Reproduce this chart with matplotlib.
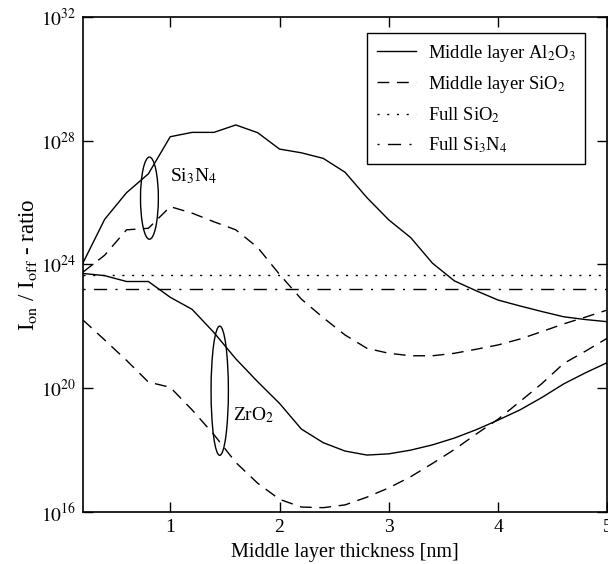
import matplotlib
matplotlib.use("Agg")
import matplotlib.pyplot as plt
import numpy as np
from matplotlib.patches import Ellipse

plt.rcParams["font.family"] = ["Liberation Serif", "DejaVu Serif"]
plt.rcParams["mathtext.fontset"] = "stix"

# ---- data (log10 of Ion/Ioff) ----
thickness = [0.2, 0.4, 0.6, 0.8, 1.0, 1.2, 1.4, 1.6, 1.8, 2.0, 2.2, 2.4, 2.6,
             2.8, 3.0, 3.2, 3.4, 3.6, 3.8, 4.0, 4.2, 4.4, 4.6, 4.8, 5.0]

si3n4_al2o3 = [24.04, 25.46, 26.32, 26.93, 28.13, 28.27, 28.27, 28.51, 28.26,
               27.73, 27.61, 27.43, 26.98, 26.16, 25.44, 24.87, 24.04, 23.47,
               23.15, 22.85, 22.66, 22.48, 22.31, 22.22, 22.15]
si3n4_sio2 = [23.75, 24.30, 25.12, 25.17, 25.87, 25.66, 25.38, 25.12, 24.55,
              23.68, 22.88, 22.28, 21.72, 21.29, 21.13, 21.05, 21.05, 21.13,
              21.26, 21.40, 21.59, 21.83, 22.08, 22.30, 22.53]
zro2_al2o3 = [23.71, 23.64, 23.45, 23.45, 22.94, 22.55, 21.80, 20.95, 20.21,
              19.51, 18.68, 18.24, 17.97, 17.84, 17.88, 18.00, 18.17, 18.39,
              18.66, 18.97, 19.30, 19.70, 20.14, 20.50, 20.83]
zro2_sio2 = [22.21, 21.56, 20.90, 20.20, 20.03, 19.30, 18.50, 17.60, 16.93,
             16.41, 16.16, 16.14, 16.23, 16.48, 16.78, 17.14, 17.57, 18.02,
             18.52, 19.00, 19.57, 20.15, 20.80, 21.20, 21.62]
full_sio2 = 23.65
full_si3n4 = 23.22

ytick_exp = [16, 20, 24, 28, 32]

fig = plt.figure(figsize=(6.08, 5.64), dpi=100)
ax = fig.add_axes([0.1362, 0.0922, 0.8628, 0.8777])

x = np.array(thickness)
dash = (0, (8.5, 5.5))
dot = (0, (1.5, 5.5))
dashdot = (15.5, (9.5, 6, 1.5, 6))

ax.plot(x, 10 ** np.array(si3n4_al2o3), color="k", lw=1.0, label=r"Middle layer Al$_2$O$_3$")
ax.plot(x, 10 ** np.array(si3n4_sio2), color="k", lw=1.0, ls=dash, label=r"Middle layer SiO$_2$")
ax.axhline(10 ** full_sio2, color="k", lw=1.0, ls=dot, label=r"Full SiO$_2$")
ax.axhline(10 ** full_si3n4, color="k", lw=1.0, ls=dashdot, label=r"Full Si$_3$N$_4$")
ax.plot(x, 10 ** np.array(zro2_al2o3), color="k", lw=1.0)
ax.plot(x, 10 ** np.array(zro2_sio2), color="k", lw=1.0, ls=dash)

ax.set_yscale("log")
ax.set_xlim(0.2, 5)
ax.set_ylim(1e16, 1e32)
ax.set_xticks([1, 2, 3, 4, 5])
ax.set_xticklabels(["1", "2", "3", "4", "5"])
ax.set_yticks([10.0 ** e for e in ytick_exp])
ax.set_yticklabels([r"$10^{%d}$" % e for e in ytick_exp])
ax.minorticks_off()
ax.tick_params(direction="in", length=7, width=1.0, top=True, right=True,
               labelsize=14, pad=5)
for s in ax.spines.values():
    s.set_linewidth(1.2)

ax.set_xlabel("Middle layer thickness [nm]", fontsize=14.5, labelpad=5)
ax.set_ylabel(r"I$_{\mathrm{on}}$ / I$_{\mathrm{off}}$ - ratio", fontsize=16.5, labelpad=1)

# ellipses marking curve groups
ax.add_patch(Ellipse((0.127, 0.634), 0.034, 0.166, transform=ax.transAxes,
                     fill=False, edgecolor="k", lw=1.0))
ax.add_patch(Ellipse((0.261, 0.245), 0.033, 0.261, transform=ax.transAxes,
                     fill=False, edgecolor="k", lw=1.0))
ax.text(1.0, 10 ** 26.84, r"Si$_3$N$_4$", fontsize=14, ha="left", va="center")
ax.text(1.57, 10 ** 19.14, r"ZrO$_2$", fontsize=14, ha="left", va="center")

leg = ax.legend(loc="upper right", bbox_to_anchor=(0.958, 0.967), fontsize=13.4,
                fancybox=False, edgecolor="k", framealpha=1, handlelength=2.1,
                handletextpad=0.65, borderpad=0.5, labelspacing=0.55, borderaxespad=0)
leg.get_frame().set_linewidth(1.0)

fig.savefig("out.png", dpi=100)
